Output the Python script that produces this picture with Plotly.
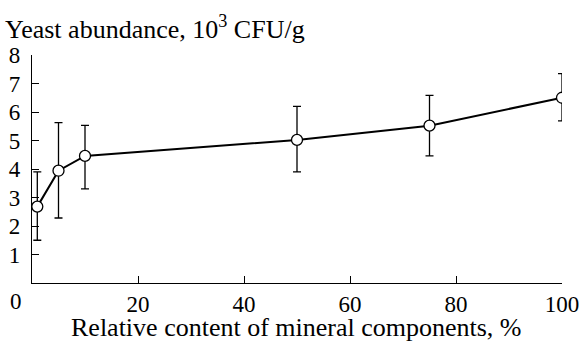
import plotly.graph_objects as go

mineral_pct = [1, 5, 10, 50, 75, 100]
yeast = [2.68, 3.94, 4.46, 5.02, 5.52, 6.5]
err_plus = [1.22, 1.69, 1.07, 1.18, 1.06, 0.85]
err_minus = [1.18, 1.66, 1.16, 1.12, 1.06, 0.81]
x_ticks = [20, 40, 60, 80, 100]
y_ticks = [1, 2, 3, 4, 5, 6, 7, 8]

FONT = "Liberation Serif"
FS_TICK = 23
FS_TITLE = 26
W, H = 584, 341
ml, mr, mt, mb = 32, 22, 55, 58
pw, ph = W - ml - mr, H - mt - mb

def px(xp):
    return (xp - ml) / pw

def py(yp):
    return (H - mb - yp) / ph

fig = go.Figure()
fig.add_trace(go.Scatter(
    x=mineral_pct, y=yeast, mode="lines+markers",
    line=dict(color="black", width=2),
    marker=dict(symbol="circle", size=11, color="white", line=dict(color="black", width=1.3)),
    error_y=dict(type="data", symmetric=False, array=err_plus, arrayminus=err_minus,
                 color="black", thickness=1.3, width=4),
    showlegend=False,
))

fig.update_layout(
    width=W, height=H,
    margin=dict(l=ml, r=mr, t=mt, b=mb, autoexpand=False),
    paper_bgcolor="white", plot_bgcolor="white",
    font=dict(family=FONT, size=FS_TICK, color="black"),
    xaxis=dict(range=[0, 100], tickvals=x_ticks, ticktext=[str(v) for v in x_ticks],
               ticks="inside", ticklen=7, tickwidth=1.3, tickcolor="black",
               showline=True, linecolor="black", linewidth=1.3, automargin=False,
               showgrid=False, zeroline=False, ticklabelstandoff=0,
               tickfont=dict(family=FONT, size=FS_TICK, color="black")),
    yaxis=dict(range=[0, 8], tickvals=y_ticks, ticktext=[str(v) for v in y_ticks],
               ticks="inside", ticklen=7, tickwidth=1.3, tickcolor="black",
               showline=True, linecolor="black", linewidth=1.3, automargin=False,
               showgrid=False, zeroline=False, ticklabelstandoff=6,
               tickfont=dict(family=FONT, size=FS_TICK, color="black")),
    annotations=[
        dict(text="Yeast abundance, 10<sup>3</sup> CFU/g", x=px(3), y=py(27),
             xref="paper", yref="paper", xanchor="left", yanchor="middle",
             showarrow=False, font=dict(family=FONT, size=FS_TITLE, color="black")),
        dict(text="Relative content of mineral components, %", x=px(296), y=py(327),
             xref="paper", yref="paper", xanchor="center", yanchor="middle",
             showarrow=False, font=dict(family=FONT, size=FS_TITLE, color="black")),
        dict(text="0", x=px(16), y=py(301),
             xref="paper", yref="paper", xanchor="center", yanchor="middle",
             showarrow=False, font=dict(family=FONT, size=FS_TICK, color="black")),
    ],
)

fig.write_html("out.html")
